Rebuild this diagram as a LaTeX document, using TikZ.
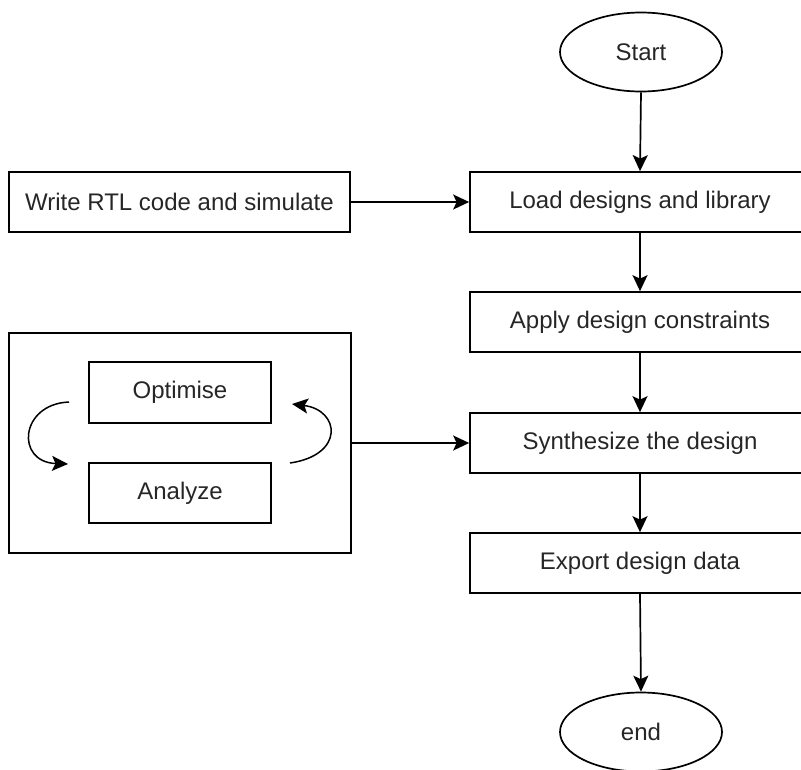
\documentclass[tikz,border=0pt]{standalone}
\usepackage{fontspec}
\setmainfont{Liberation Sans}
\usetikzlibrary{arrows.meta,shapes.geometric}
\begin{document}
\begin{tikzpicture}[x=1pt,y=-1pt,
  every node/.style={font=\fontsize{24}{28}\selectfont, text=black!85},
  box/.style={draw, line width=1.7pt, rectangle, minimum width=340pt, minimum height=60pt, inner sep=0pt},
  smallbox/.style={draw, line width=1.7pt, rectangle, minimum width=182pt, minimum height=60pt, inner sep=0pt},
  term/.style={draw, line width=1.7pt, ellipse, minimum width=162pt, minimum height=79pt, inner sep=0pt},
  flow/.style={line width=1.7pt, -{Stealth[length=16pt,width=15pt,inset=3.5pt]}},
  loopflow/.style={line width=1.5pt, -{Stealth[length=16pt,width=15pt,inset=3.5pt]}}]
\useasboundingbox (0,0) rectangle (801,769);
\clip (0,0) rectangle (801,769);

% main flow column
\node[term] (start) at (641,52) {Start};
\node[box] (load) at (640,202) {Load designs and library};
\node[box] (apply) at (640,322) {Apply design constraints};
\node[box] (synth) at (640,443) {Synthesize the design};
\node[box] (export) at (640,563) {Export design data};
\node[term] (finish) at (641,732) {end};

% inputs on the left
\node[box, minimum width=341pt] (rtl) at (179.5,202) {Write RTL code and simulate};
\node[draw, line width=1.7pt, rectangle, minimum width=342pt, minimum height=220pt] (loop) at (180,443) {};
\node[smallbox, minimum height=61pt] (opt) at (180,392.5) {Optimise};
\node[smallbox] (ana) at (180,493) {Analyze};

% connectors
\draw[flow] (start.south) -- (load.north);
\draw[flow] (load.south) -- (apply.north);
\draw[flow] (apply.south) -- (synth.north);
\draw[flow] (synth.south) -- (export.north);
\draw[flow] (export.south) -- (finish.north);
\draw[flow] (rtl.east) -- (load.west);
\draw[flow] (loop.east) -- (synth.west);

% optimise/analyze iteration arrows
\coordinate (l1) at (69,402);
\coordinate (l2) at (68,464);
\coordinate (r1) at (290,463);
\coordinate (r2) at (292,404);
\draw[loopflow] (l1) .. controls (20,404) and (15,462) .. (l2);
\draw[loopflow] (r1) .. controls (345,455) and (340,410) .. (r2);
\end{tikzpicture}
\end{document}
